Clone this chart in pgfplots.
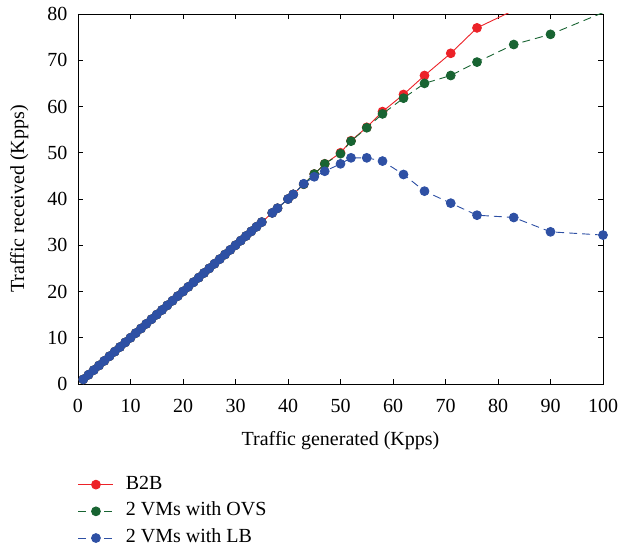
\documentclass[border=0pt]{standalone}
\usepackage{fontspec}
\setmainfont{Liberation Serif}
\usepackage{pgfplots}
\pgfplotsset{compat=1.18}

\definecolor{btbred}{RGB}{236,34,40}
\definecolor{ovsgreen}{RGB}{24,100,50}
\definecolor{lbblue}{RGB}{46,80,164}

\begin{document}
\begin{tikzpicture}
\begin{axis}[
  at={(0,0)}, anchor=south west,
  scale only axis,
  width=525bp, height=370bp,
  xmin=0, xmax=100, ymin=0, ymax=80,
  xtick={0,10,...,100}, ytick={0,10,...,80},
  tick align=inside,
  major tick length=5bp,
  axis line style={line width=0.9bp, black},
  every tick/.style={black, line width=0.8bp},
  font=\fontsize{20bp}{24bp}\selectfont,
  /pgf/number format/assume math mode=true,
  yticklabel style={xshift=-7bp},
  xticklabel style={yshift=-11.5bp},
  xlabel={Traffic generated (Kpps)},
  ylabel={Traffic received (Kpps)},
  xlabel style={at={(axis description cs:0.5,-0.152)}, anchor=center},
  ylabel style={at={(axis description cs:-0.112,0.5)}, anchor=center},
  clip mode=individual,
  legend cell align=left,
  legend style={draw=none, fill=none,
    at={(axis description cs:0,-0.249)}, anchor=north west,
    inner sep=0pt, outer sep=0pt, row sep=9.7bp, column sep=12bp,
    nodes={inner sep=0pt, text height=13bp, text depth=4bp}},
  legend image code/.code={%
    \draw[mark repeat=2, mark phase=2] plot coordinates {(0bp,0bp) (17.5bp,0bp) (35bp,0bp)};},
]
% back-to-back reference
\addplot[btbred, line width=0.9bp, mark=*, mark size=4.4bp, mark options={solid, fill=btbred, draw=btbred}]
  coordinates {
  (1,1) (2,2) (3,3) (4,4) (5,5) (6,6) (7,7) (8,8) (9,9) (10,10)
  (11,11) (12,12) (13,13) (14,14) (15,15) (16,16) (17,17) (18,18) (19,19) (20,20)
  (21,21) (22,22) (23,23) (24,24) (25,25) (26,26) (27,27) (28,28) (29,29) (30,30)
  (31,31) (32,32) (33,33) (34,34) (35,35) (37,37) (38,38) (40,40) (41,41) (43,43.2)
  (45,45.4) (47,47.6) (50,50.0) (52,52.6) (55,55.5) (58,58.9) (62,62.6) (66,66.7)
  (71,71.5) (76,77.0) (83,80.8)
  };
\addlegendentry{B2B}
% two VMs bridged by Open vSwitch
\addplot[ovsgreen, line width=0.9bp, dash pattern=on 8bp off 5bp, mark=*, mark size=4.4bp, mark options={solid, fill=ovsgreen, draw=ovsgreen}]
  coordinates {
  (1,1) (2,2) (3,3) (4,4) (5,5) (6,6) (7,7) (8,8) (9,9) (10,10)
  (11,11) (12,12) (13,13) (14,14) (15,15) (16,16) (17,17) (18,18) (19,19) (20,20)
  (21,21) (22,22) (23,23) (24,24) (25,25) (26,26) (27,27) (28,28) (29,29) (30,30)
  (31,31) (32,32) (33,33) (34,34) (35,35) (37,37) (38,38) (40,40) (41,41) (43,43.2)
  (45,45.4) (47,47.6) (50,49.8) (52,52.5) (55,55.4) (58,58.4) (62,61.8) (66,65.0)
  (71,66.7) (76,69.6) (83,73.4) (90,75.6) (100,80.3)
  };
\addlegendentry{2 VMs with OVS}
% two VMs behind the load balancer
\addplot[lbblue, line width=0.9bp, dash pattern=on 8bp off 5bp, mark=*, mark size=4.4bp, mark options={solid, fill=lbblue, draw=lbblue}]
  coordinates {
  (1,1) (2,2) (3,3) (4,4) (5,5) (6,6) (7,7) (8,8) (9,9) (10,10)
  (11,11) (12,12) (13,13) (14,14) (15,15) (16,16) (17,17) (18,18) (19,19) (20,20)
  (21,21) (22,22) (23,23) (24,24) (25,25) (26,26) (27,27) (28,28) (29,29) (30,30)
  (31,31) (32,32) (33,33) (34,34) (35,35) (37,37) (38,38) (40,40) (41,41) (43,43.3)
  (45,44.8) (47,46.0) (50,47.6) (52,48.9) (55,48.9) (58,48.2) (62,45.3) (66,41.7)
  (71,39.1) (76,36.5) (83,36.0) (90,32.9) (100,32.2)
  };
\addlegendentry{2 VMs with LB}
\end{axis}
\pgfresetboundingbox
\path[use as bounding box] (-78bp,-164bp) rectangle (541bp,384bp);
\end{tikzpicture}
\end{document}
